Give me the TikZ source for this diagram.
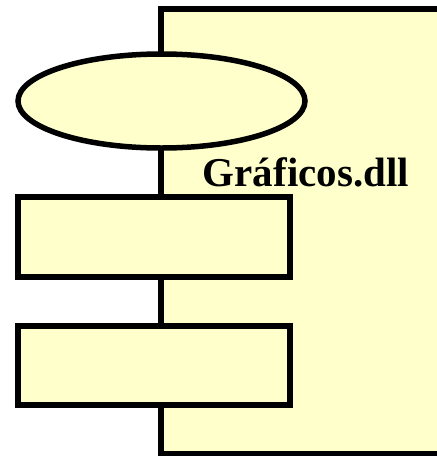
\documentclass[tikz,border=0pt]{standalone}
\usepackage{fontspec}
\setmainfont{Liberation Serif}
\usetikzlibrary{positioning,shapes.geometric}
\definecolor{compfill}{HTML}{FFFFCC}

\begin{document}
\begin{tikzpicture}[
    x=1pt, y=-1pt,
    every node/.style={draw, line width=5.5pt, fill=compfill, inner sep=0pt},
    component/.style={rectangle, minimum width=309pt, minimum height=445pt},
    port/.style={rectangle, minimum width=272pt, minimum height=80pt},
    iface/.style={ellipse, minimum width=287pt, minimum height=94pt},
    title/.style={draw=none, fill=none, font=\bfseries\fontsize{41}{41}\selectfont}
]
\useasboundingbox (0,0) rectangle (437,456);

\node[component] (graficos) at (315.5,231.5) {};
\node[iface] (iface_top) at (161.5,101) {};
\node[port] (port_one) at (154,237) {};
\node[port, minimum height=79pt] (port_two) at (154,365.5) {};
\node[title, anchor=base west] (graficos_name) at (200,186) {Gráficos.dll};

\end{tikzpicture}
\end{document}
